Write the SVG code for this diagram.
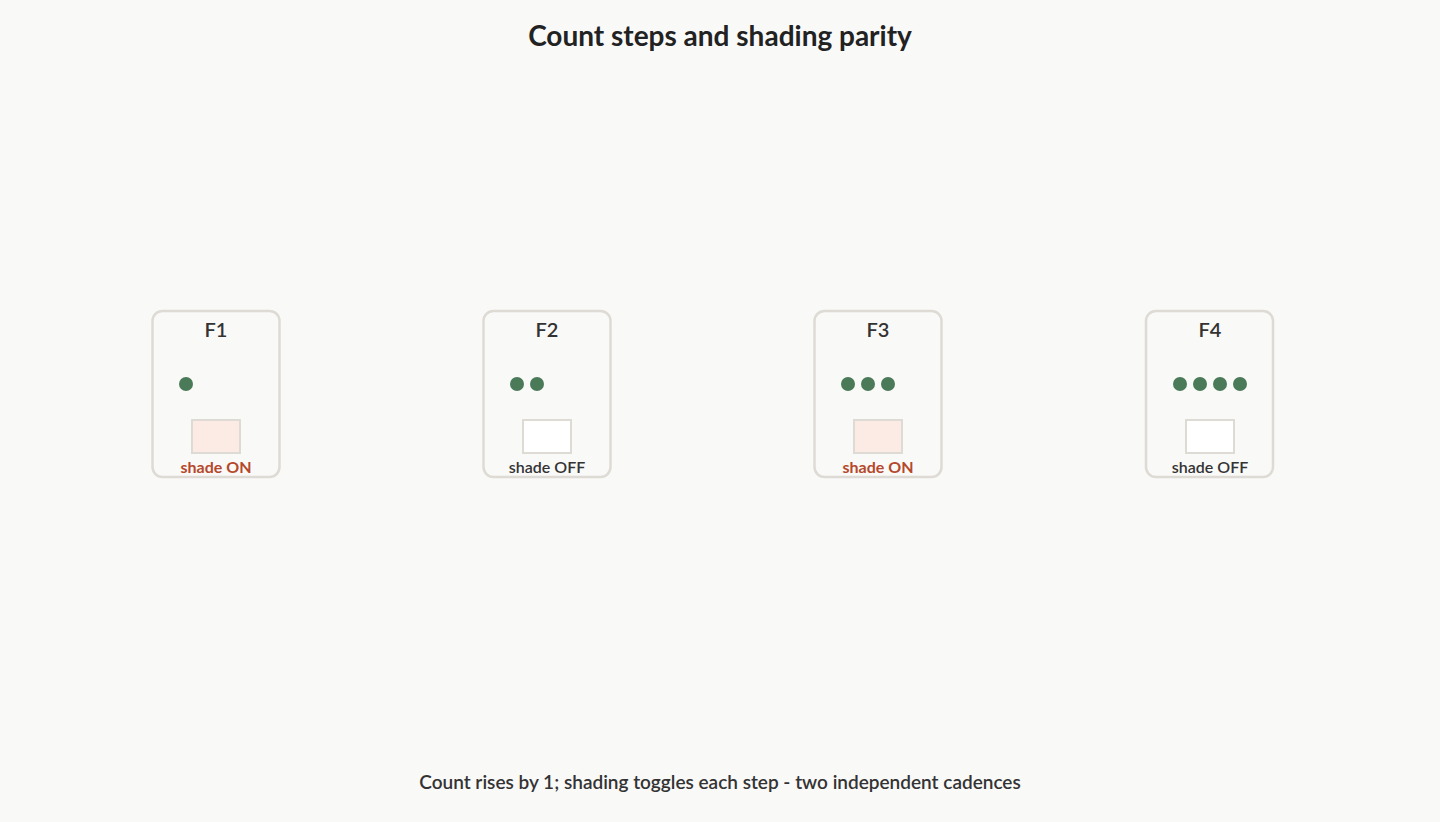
<svg xmlns="http://www.w3.org/2000/svg" width="1440" height="822" viewBox="0 0 1440 822">
<style>
.bg{fill:#f9f9f8}
.card{fill:#f9f9f8;stroke:#dedbd4;stroke-width:2.5}
.fl{font-family:Lato,"Liberation Sans",sans-serif;font-size:20px;font-weight:600;fill:#333;text-anchor:middle}
.dot{fill:#4a7a58}
.shon{fill:#fcebe4;stroke:#dedbd4;stroke-width:2}
.shoff{fill:#ffffff;stroke:#dedbd4;stroke-width:2}
.lon{font-family:Lato,"Liberation Sans",sans-serif;font-size:16px;font-weight:700;fill:#b5482b;text-anchor:middle}
.loff{font-family:Lato,"Liberation Sans",sans-serif;font-size:16px;font-weight:600;fill:#333;text-anchor:middle}
.title{font-family:Lato,"Liberation Sans",sans-serif;font-size:28px;font-weight:700;fill:#222;text-anchor:middle}
.cap{font-family:Lato,"Liberation Sans",sans-serif;font-size:19px;font-weight:600;fill:#333;text-anchor:middle}
</style>
<rect class="bg" x="0" y="0" width="1440" height="822"/>
<text class="title" x="720" y="46">Count steps and shading parity</text>
<g id="connectors"></g>
<g id="F1">
<rect class="card" x="152.5" y="311" width="127" height="166" rx="10"/>
<text class="fl" x="216" y="337">F1</text>
<circle class="dot" cx="186" cy="384" r="7"/>
<rect class="shon" x="192" y="420" width="48" height="33"/>
<text class="lon" x="216" y="473">shade ON</text>
</g>
<g id="F2">
<rect class="card" x="483.5" y="311" width="127" height="166" rx="10"/>
<text class="fl" x="547" y="337">F2</text>
<circle class="dot" cx="517" cy="384" r="7"/>
<circle class="dot" cx="537" cy="384" r="7"/>
<rect class="shoff" x="523" y="420" width="48" height="33"/>
<text class="loff" x="547" y="473">shade OFF</text>
</g>
<g id="F3">
<rect class="card" x="814.5" y="311" width="127" height="166" rx="10"/>
<text class="fl" x="878" y="337">F3</text>
<circle class="dot" cx="848" cy="384" r="7"/>
<circle class="dot" cx="868" cy="384" r="7"/>
<circle class="dot" cx="888" cy="384" r="7"/>
<rect class="shon" x="854" y="420" width="48" height="33"/>
<text class="lon" x="878" y="473">shade ON</text>
</g>
<g id="F4">
<rect class="card" x="1146" y="311" width="127" height="166" rx="10"/>
<text class="fl" x="1210" y="337">F4</text>
<circle class="dot" cx="1180" cy="384" r="7"/>
<circle class="dot" cx="1200" cy="384" r="7"/>
<circle class="dot" cx="1220" cy="384" r="7"/>
<circle class="dot" cx="1240" cy="384" r="7"/>
<rect class="shoff" x="1186" y="420" width="48" height="33"/>
<text class="loff" x="1210" y="473">shade OFF</text>
</g>
<text class="cap" x="720" y="789">Count rises by 1; shading toggles each step - two independent cadences</text>
</svg>
